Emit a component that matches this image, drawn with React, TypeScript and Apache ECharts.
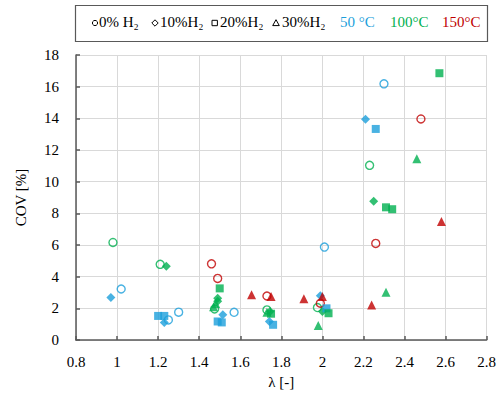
import React, { useEffect, useRef } from "react";
import * as echarts from "echarts";

// [lambda, COV %]
const h0_50C = [[1.02, 3.22], [1.25, 1.27], [1.3, 1.76], [1.57, 1.75], [2.01, 5.87], [2.3, 16.18]];
const h0_100C = [[0.98, 6.16], [1.21, 4.78], [1.475, 1.96], [1.73, 1.9], [1.976, 2.05], [2.23, 11.03]];
const h0_150C = [[1.46, 4.81], [1.49, 3.89], [1.73, 2.78], [1.99, 2.32], [2.26, 6.1], [2.48, 13.96]];
const h10_50C = [[0.97, 2.68], [1.23, 1.1], [1.515, 1.59], [1.742, 1.17], [1.99, 2.8], [2.21, 13.94]];
const h10_100C = [[1.24, 4.66], [1.49, 2.63], [1.49, 2.45], [1.745, 1.8], [2.0, 1.8], [2.25, 8.76]];
const h20_50C = [[1.2, 1.52], [1.23, 1.52], [1.49, 1.17], [1.51, 1.11], [1.76, 0.96], [2.02, 2.0], [2.26, 13.33]];
const h20_100C = [[1.5, 3.26], [1.75, 1.66], [2.03, 1.69], [2.31, 8.38], [2.34, 8.26], [2.57, 16.85]];
const h30_100C = [[1.47, 2.1], [1.48, 2.3], [1.73, 1.75], [1.98, 0.92], [2.31, 3.01], [2.46, 11.45]];
const h30_150C = [[1.655, 2.86], [1.75, 2.74], [1.91, 2.6], [2.0, 2.74], [2.24, 2.21], [2.58, 7.48]];

const xTickLabels = ["0.8", "1", "1.2", "1.4", "1.6", "1.8", "2", "2.2", "2.4", "2.6", "2.8"];
const yTickLabels = ["0", "2", "4", "6", "8", "10", "12", "14", "16", "18"];

const BLUE = "#1C9FDB";
const GREEN = "#00B050";
const RED = "#C00000";
const FONT = "Liberation Serif";

export default function App() {
  const ref = useRef<HTMLDivElement>(null);
  useEffect(() => {
    if (!ref.current) return;
    const chart = echarts.init(ref.current, null, { renderer: "svg" });
    const hollow = (name: string, data: number[][], color: string) => ({
      name, type: "scatter", data, symbol: "circle", symbolSize: 8,
      itemStyle: { color: "rgba(255,255,255,0)", borderColor: color, borderWidth: 1.4 },
    });
    const filled = (name: string, data: number[][], color: string, symbol: string, size: number) => ({
      name, type: "scatter", data, symbol, symbolSize: size, itemStyle: { color },
    });
    const legendY = 23;
    const txt = (x: number, text: string, color = "#000") => ({
      type: "text", left: x, top: legendY - 9,
      style: { text, fill: color, fontSize: 15, fontFamily: FONT },
    });
    const labelStyle = (size: number) => ({ fontFamily: FONT, fontSize: size, color: "#000", fontWeight: "normal" as const });
    chart.setOption({
      animation: false,
      backgroundColor: "#fff",
      textStyle: { fontFamily: FONT },
      grid: { left: 76, right: 11, top: 55, bottom: 52 },
      xAxis: {
        type: "value", min: 0.8, max: 2.8, interval: 0.2,
        name: "λ [-]", nameLocation: "middle", nameGap: 34,
        nameTextStyle: labelStyle(15),
        axisLine: { onZero: false, lineStyle: { color: "#595959", width: 1.5 } },
        axisTick: { inside: true, length: 4, lineStyle: { color: "#595959", width: 1.5 } },
        axisLabel: {
          ...labelStyle(15), margin: 14,
          formatter: (v: number) => xTickLabels[Math.round((v - 0.8) / 0.2)] ?? "",
        },
        splitLine: { show: true, lineStyle: { color: "#D9D9D9", width: 1 } },
      },
      yAxis: {
        type: "value", min: 0, max: 18, interval: 2,
        name: "COV [%]", nameLocation: "middle", nameGap: 48, nameRotate: 90,
        nameTextStyle: labelStyle(15),
        axisLine: { show: true, lineStyle: { color: "#595959", width: 1.5 } },
        axisTick: { show: true, inside: true, length: 4, lineStyle: { color: "#595959", width: 1.5 } },
        axisLabel: {
          ...labelStyle(15), margin: 17,
          formatter: (v: number) => yTickLabels[Math.round(v / 2)] ?? "",
        },
        splitLine: { show: true, lineStyle: { color: "#D9D9D9", width: 1 } },
      },
      graphic: [
        { type: "rect", shape: { x: 75.5, y: 5.5, width: 412, height: 36 }, style: { fill: "#fff", stroke: "#595959", lineWidth: 1.2 } },
        { type: "circle", shape: { cx: 95, cy: legendY, r: 2.6 }, style: { fill: "none", stroke: "#000", lineWidth: 1 } },
        txt(99, "0% H₂"),
        { type: "polygon", shape: { points: [[155, legendY - 3.2], [158.2, legendY], [155, legendY + 3.2], [151.8, legendY]] }, style: { fill: "none", stroke: "#000", lineWidth: 1 } },
        txt(160, "10%H₂"),
        { type: "rect", shape: { x: 212, y: legendY - 2.7, width: 5.4, height: 5.4 }, style: { fill: "none", stroke: "#000", lineWidth: 1 } },
        txt(220, "20%H₂"),
        { type: "polygon", shape: { points: [[276, legendY - 3.3], [279.3, legendY + 2.6], [272.7, legendY + 2.6]] }, style: { fill: "none", stroke: "#000", lineWidth: 1 } },
        txt(282, "30%H₂"),
        txt(340, "50 °C", BLUE),
        txt(390, "100°C", GREEN),
        txt(442, "150°C", RED),
      ],
      series: [
        hollow("0% H2 50°C", h0_50C, BLUE),
        hollow("0% H2 100°C", h0_100C, GREEN),
        hollow("0% H2 150°C", h0_150C, RED),
        filled("10% H2 50°C", h10_50C, BLUE, "diamond", 9),
        filled("10% H2 100°C", h10_100C, GREEN, "diamond", 9),
        filled("20% H2 50°C", h20_50C, BLUE, "rect", 8),
        filled("20% H2 100°C", h20_100C, GREEN, "rect", 8),
        filled("30% H2 100°C", h30_100C, GREEN, "triangle", 9),
        filled("30% H2 150°C", h30_150C, RED, "triangle", 9),
      ],
    });
    return () => chart.dispose();
  }, []);
  return <div ref={ref} style={{ position: "absolute", left: 0, top: 0, width: 499, height: 394 }} />;
}
